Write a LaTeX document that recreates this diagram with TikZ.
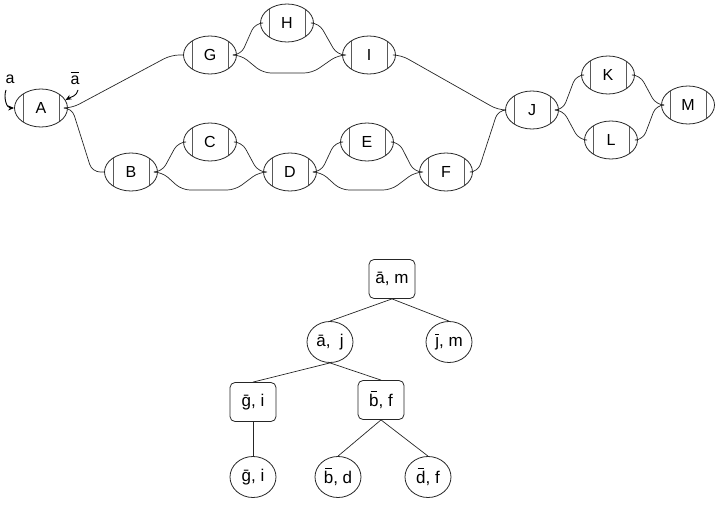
\documentclass[tikz,border=0pt]{standalone}
\usepackage{fontspec}
\setmainfont{Liberation Sans}
\usetikzlibrary{shapes.geometric,arrows.meta,calc}
\newcommand\mybar[1]{\leavevmode\setbox0\hbox{#1}\rlap{\hbox to\wd0{\hss\raisebox{\dimexpr\ht0+1.8pt\relax}{\rule{0.7\wd0}{0.9pt}}\hss}}\box0}
\newcommand\myjbar{\leavevmode\setbox0\hbox{\j}\rlap{\hbox to\wd0{\hss\raisebox{\dimexpr\ht0+1.8pt\relax}{\rule{4pt}{0.9pt}}\hss}}\box0}
\begin{document}
\begin{tikzpicture}[x=1pt,y=-1pt,
  every node/.style={font=\fontsize{16}{19}\selectfont},
  comp/.style={ellipse,draw=black!85,line width=0.8pt,minimum width=53pt,minimum height=38pt,inner sep=0pt,
    path picture={\draw[line width=0.8pt,black!65]
      ([xshift=-18pt]path picture bounding box.north) -- ([xshift=-18pt]path picture bounding box.south)
      ([xshift=18pt]path picture bounding box.north) -- ([xshift=18pt]path picture bounding box.south);}},
  conn/.style={draw=black!85,line width=0.7pt,rounded corners=8pt},
  tbox/.style={draw=black!85,line width=0.8pt,rounded corners=5pt,minimum width=46pt,minimum height=39pt,inner sep=1pt,font=\fontsize{17}{20}\selectfont},
  tell/.style={ellipse,draw=black!85,line width=0.8pt,minimum width=46pt,minimum height=41pt,inner sep=0pt,font=\fontsize{17}{20}\selectfont},
  tedge/.style={draw=black!85,line width=0.7pt},
  arr/.style={draw,line width=0.9pt,-{Stealth[length=6pt,width=5pt]}}]
\useasboundingbox (0,0) rectangle (720,505);
% components
\node[comp] (A) at (41,108) {A};
\node[comp] (G) at (210,55) {G};
\node[comp] (H) at (287,23) {H};
\node[comp] (I) at (369,55) {I};
\node[comp] (B) at (131,172) {B};
\node[comp] (C) at (210,142) {C};
\node[comp] (D) at (290,172) {D};
\node[comp] (E) at (367,142) {E};
\node[comp] (F) at (446,172) {F};
\node[comp] (J) at (532,110) {J};
\node[comp] (K) at (608,75) {K};
\node[comp] (L) at (611,140) {L};
\node[comp] (M) at (688,105) {M};
% labels at A
\node (la) at (10,79) {a};
\node (lab) at (75,78) {$\overline{\hbox{a\vphantom{l}}}$};
\coordinate (las) at (6,90);
\coordinate (labs) at (78,90);
\draw[arr] (las) to[out=-110,in=180] (A.west);
\draw[arr] (labs) to[out=-100,in=30] (A.18);
% connectors
\path[conn] (A.east) -- ++(4,0) -- ($(G.west)+(-12,0)$) -- (G.west);
\path[conn] (A.east) -- ++(4,0) -- ($(B.west)+(-12,0)$) -- (B.west);
\path[conn] (G.east) -- ++(4,0) -- ($(H.west)+(-5,0)$) -- (H.west);
\path[conn] (G.east) -- ++(4,0) -- ($(G.east)+(26,18)$) -- ($(I.west)+(-30,18)$) -- ($(I.west)+(-4,0)$) -- (I.west);
\path[conn] (H.east) -- ++(5,0) -- ($(I.west)+(-5,0)$) -- (I.west);
\path[conn] (B.east) -- ++(4,0) -- ($(C.west)+(-5,0)$) -- (C.west);
\path[conn] (B.east) -- ++(4,0) -- ($(B.east)+(24,18)$) -- ($(D.west)+(-28,18)$) -- ($(D.west)+(-4,0)$) -- (D.west);
\path[conn] (C.east) -- ++(5,0) -- ($(D.west)+(-5,0)$) -- (D.west);
\path[conn] (D.east) -- ++(4,0) -- ($(E.west)+(-5,0)$) -- (E.west);
\path[conn] (D.east) -- ++(4,0) -- ($(D.east)+(24,18)$) -- ($(F.west)+(-28,18)$) -- ($(F.west)+(-4,0)$) -- (F.west);
\path[conn] (E.east) -- ++(5,0) -- ($(F.west)+(-5,0)$) -- (F.west);
\path[conn] (I.east) -- ++(5,0) -- ($(J.west)+(-7,0)$) -- (J.west);
\path[conn] (F.east) -- ++(5,0) -- ($(J.west)+(-7,0)$) -- (J.west);
\path[conn] (J.east) -- ++(4,0) -- ($(K.west)+(-5,0)$) -- (K.west);
\path[conn] (J.east) -- ++(4,0) -- ($(L.west)+(-5,0)$) -- (L.west);
\path[conn] (K.east) -- ++(5,0) -- ($(M.west)+(-5,0)$) -- (M.west);
\path[conn] (L.east) -- ++(5,0) -- ($(M.west)+(-5,0)$) -- (M.west);
% tree
\node[tbox] (r) at (392,279) {ā, m};
\node[tell] (aj) at (330,342) {ā,\ \ j};
\node[tell] (jm) at (449,342) {\myjbar, m};
\node[tbox] (gi1) at (253,402) {ḡ, i};
\node[tbox] (bf) at (381,400) {\mybar{b}, f};
\node[tell] (gi2) at (253,477) {ḡ, i};
\node[tell] (bd) at (338,477) {\mybar{b}, d};
\node[tell] (df) at (428,477) {\mybar{d}, f};
\path[tedge] (r.south) -- (aj.north);
\path[tedge] (r.south) -- (jm.north);
\path[tedge] (aj.south) -- (gi1.north);
\path[tedge] (aj.south) -- (bf.north);
\path[tedge] (gi1.south) -- (gi2.north);
\path[tedge] (bf.south) -- (bd.north);
\path[tedge] (bf.south) -- (df.north);
\end{tikzpicture}
\end{document}
